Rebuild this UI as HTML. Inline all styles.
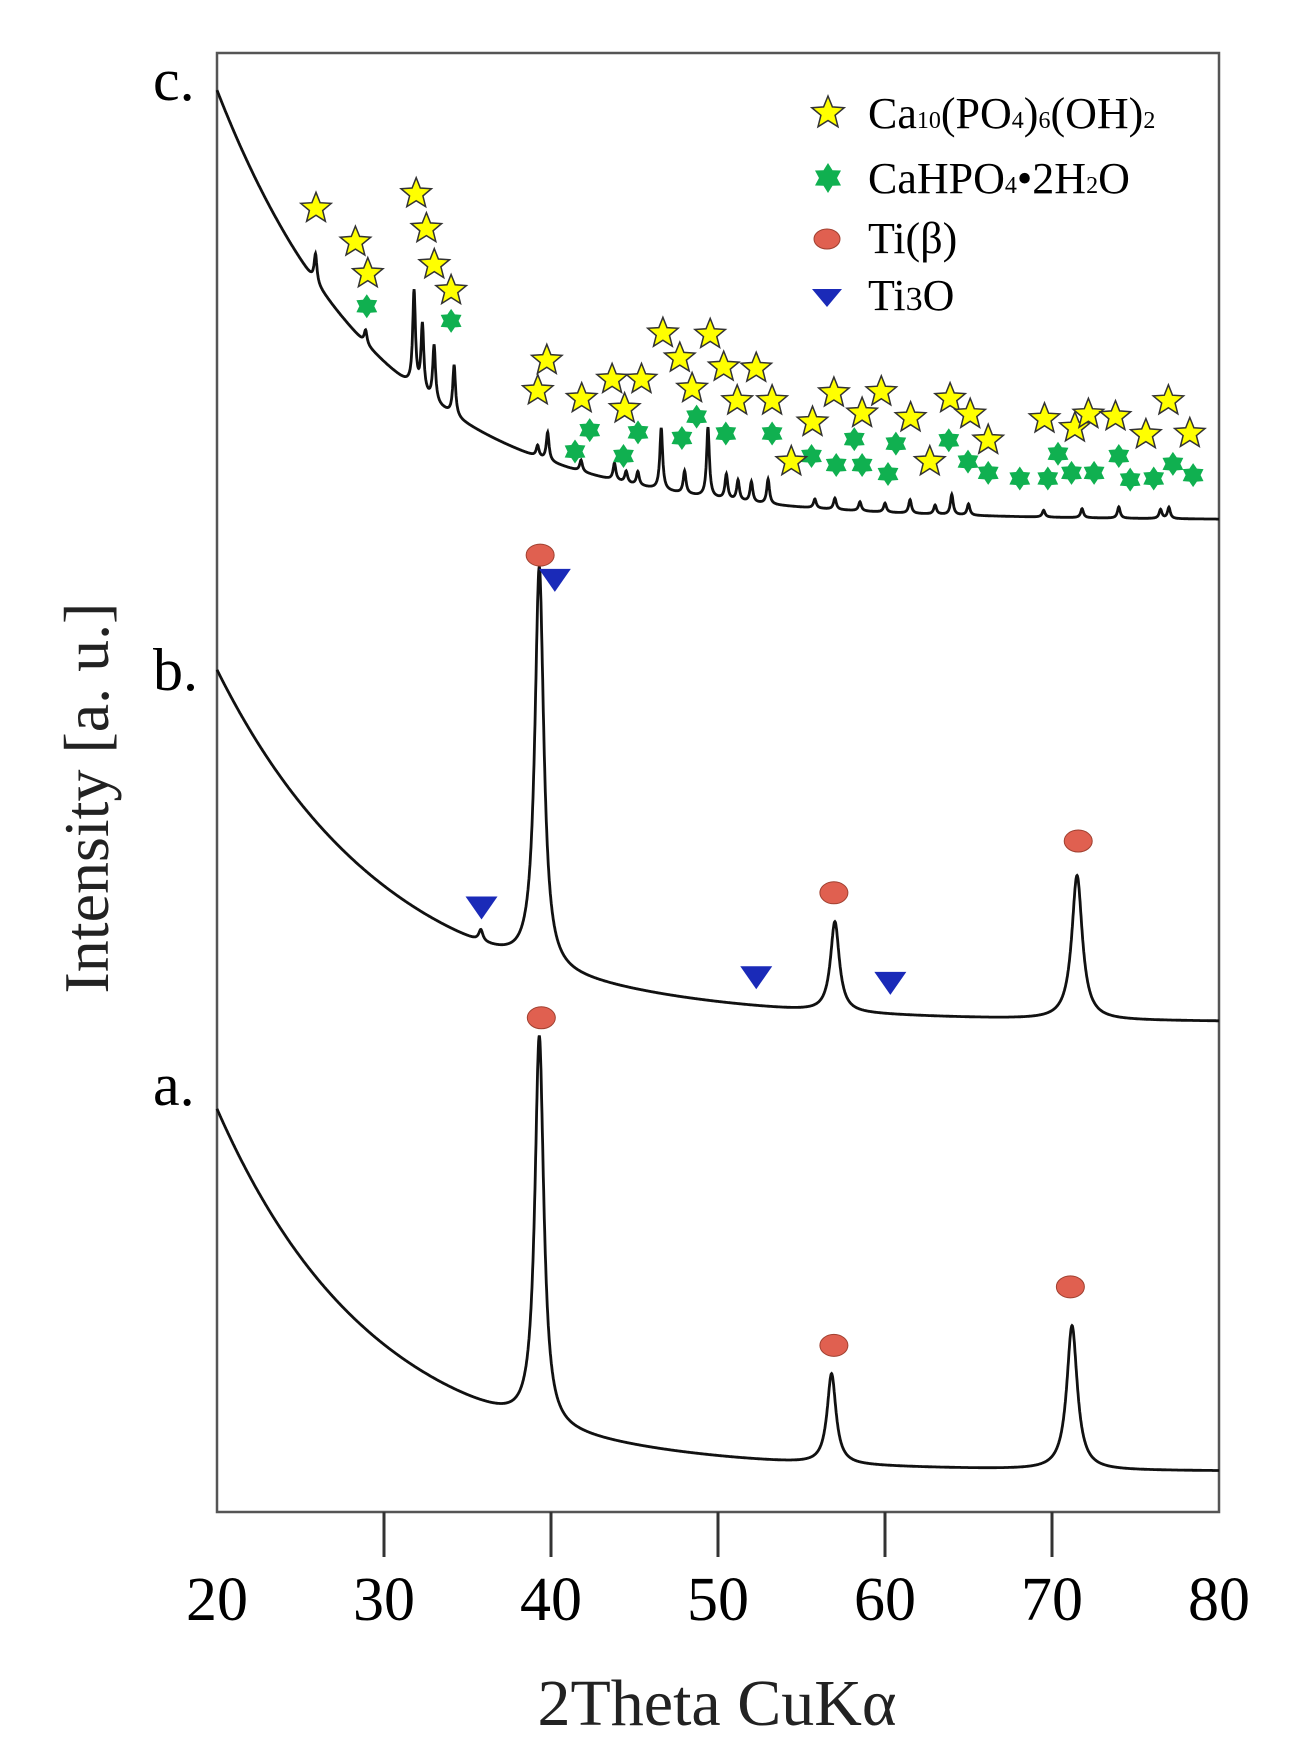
<!DOCTYPE html>
<html><head><meta charset="utf-8">
<style>
html,body{margin:0;padding:0;background:#fff;}
svg{display:block;font-family:"Liberation Serif",serif;}
</style></head>
<body>
<svg id="chart" width="1304" height="1764" viewBox="0 0 1304 1764" xmlns="http://www.w3.org/2000/svg">
<rect x="0" y="0" width="1304" height="1764" fill="#fff"/>
<rect x="217" y="53" width="1002" height="1459" fill="none" stroke="#555" stroke-width="2.5"/>
<g id="xticks"></g>
<g id="curves"></g>
<g id="markers"></g>
<text x="153" y="100" font-size="60">c.</text>
<text x="153" y="690" font-size="60">b.</text>
<text x="153" y="1105" font-size="60">a.</text>
<text x="717" y="1725" font-size="66" text-anchor="middle" fill="#222">2Theta CuKα</text>
<text transform="translate(108,798) rotate(-90)" font-size="64" text-anchor="middle" fill="#222">Intensity [a. u.]</text>
<g font-size="44">
  <g>
    <polygon id="lgStar" fill="#ffff00" stroke="#333" stroke-width="1.5"/>
    <text x="868" y="128">Ca<tspan font-size="24">10</tspan>(PO<tspan font-size="24">4</tspan>)<tspan font-size="24">6</tspan>(OH)<tspan font-size="24">2</tspan></text>
  </g>
  <g>
    <polygon id="lgGreen" fill="#10b050"/>
    <text x="868" y="193">CaHPO<tspan font-size="24">4</tspan>•2H<tspan font-size="24">2</tspan>O</text>
  </g>
  <g>
    <ellipse cx="827" cy="239" rx="13" ry="10" fill="#e06050" stroke="#a04030" stroke-width="1"/>
    <text x="868" y="253">Ti(β)</text>
  </g>
  <g>
    <polygon points="812,289 842,289 827,307" fill="#1a2ab8"/>
    <text x="868" y="310">Ti<tspan font-size="34">3</tspan>O</text>
  </g>
</g>
</svg>
<script>
// axis
const xMin = 20, xMax = 80;
const xTicks = [20,30,40,50,60,70,80];
// curve a
const aOffset = 36, aBgAmp = 322, aBgTau = 9.5;
const aPeakPos = [39.3, 56.8, 71.2];
const aPeakH = [345, 80, 128];
const aPeakW = [0.32, 0.32, 0.38];
// curve b
const bOffset = 435, bBgAmp = 313, bBgTau = 10.5;
const bPeakPos = [35.8, 39.3, 57.0, 71.5];
const bPeakH = [10, 355, 80, 128];
const bPeakW = [0.15, 0.32, 0.32, 0.38];
// curve c
const cOffset = 881, cBgAmp = 382, cBgTau = 10;
const cPeakPos = [25.9,28.9,31.8,32.3,33.0,34.2,39.2,39.8,41.8,43.8,44.5,45.2,46.6,48.0,49.4,50.5,51.2,52.0,53.0,55.8,57.0,58.5,60.0,61.5,63.0,64.0,65.0,69.5,71.8,74.0,76.5,77.0];
const cPeakH = [25,12,85,60,50,45,10,25,10,15,10,12,55,20,62,22,18,18,22,8,10,8,8,12,8,18,10,6,8,10,8,10];
const cPeakW = 0.1;
// markers
const hapX = [25.93,28.29,29.03,31.93,32.54,33.01,34.02,39.75,39.21,41.84,43.66,44.41,45.42,46.70,47.71,48.45,49.53,50.34,51.15,52.29,53.24,54.39,55.66,56.94,58.63,59.78,61.53,62.68,63.90,65.10,66.18,69.55,71.37,72.18,73.80,75.62,76.97,78.25];
const hapV = [1158,1128,1100,1171,1140,1108,1085,1023,996,989,1006,980,1006,1047,1025,998,1046,1017,987,1016,987,933,968,994,976,995,972,933,989,975,952,971,963,975,973,957,987,958];
const bruX = [28.97,34.02,41.44,42.32,44.34,45.21,47.84,48.72,50.47,53.24,55.60,57.08,58.16,58.63,60.18,60.65,63.82,64.97,66.18,68.07,69.75,70.36,71.17,72.52,74.00,74.68,76.09,77.24,78.45];
const bruV = [1071,1058,942,961,938,959,954,973,958,958,938,930,953,930,922,949,952,933,923,918,918,940,923,923,938,917,918,931,921];
const tiX = [39.35,56.94,71.57,39.42,56.94,71.10];
const tiV = [850,550,596,439,148,200];
const ti3oX = [40.23,35.84,52.29,60.32];
const ti3oV = [828,537,475,470];

const NS = "http://www.w3.org/2000/svg";
const X0 = 217, X1 = 1219, Y0 = 1512, YK = 1.1258;
function xs(t){ return X0 + (t - xMin) / (xMax - xMin) * (X1 - X0); }
function ys(v){ return Y0 - v * YK; }
function mk(tag, attrs, parent){ const e = document.createElementNS(NS, tag); for (const k in attrs) e.setAttribute(k, attrs[k]); parent.appendChild(e); return e; }

const gt = document.getElementById('xticks');
xTicks.forEach((t, i) => {
  if (i > 0 && i < xTicks.length - 1) {
    const l = mk('line', {x1: xs(t), x2: xs(t), y1: Y0, y2: Y0 + 45, stroke: '#333', 'stroke-width': 3}, gt);
    
    
  }
  const tx = mk('text', {x: xs(t), y: 1620, 'font-size': 62, 'text-anchor': 'middle'}, gt);
  tx.textContent = t;
  
  
});

function curve(off, amp, tau, pos, h, w) {
  let d = '';
  for (let t = xMin; t <= xMax + 1e-9; t += 0.02) {
    let v = off + amp * Math.exp(-(t - xMin) / tau);
    for (let i = 0; i < pos.length; i++) {
      const ww = Array.isArray(w) ? w[i] : w;
      const z = (t - pos[i]) / ww;
      v += h[i] / (1 + z * z);
    }
    d += (d ? 'L' : 'M') + xs(t).toFixed(1) + ' ' + ys(v).toFixed(1);
  }
  return d;
}
const gc = document.getElementById('curves');
const pa = mk('path', {d: curve(aOffset, aBgAmp, aBgTau, aPeakPos, aPeakH, aPeakW), fill: 'none', stroke: '#111', 'stroke-width': 2.8}, gc);


const pb = mk('path', {d: curve(bOffset, bBgAmp, bBgTau, bPeakPos, bPeakH, bPeakW), fill: 'none', stroke: '#111', 'stroke-width': 2.8}, gc);


const pc = mk('path', {d: curve(cOffset, cBgAmp, cBgTau, cPeakPos, cPeakH, cPeakW), fill: 'none', stroke: '#111', 'stroke-width': 2.8}, gc);



function starPts(cx, cy, n, ro, ri) {
  const p = [];
  for (let i = 0; i < 2 * n; i++) {
    const a = -Math.PI / 2 + i * Math.PI / n;
    const r = i % 2 ? ri : ro;
    p.push((cx + r * Math.cos(a)).toFixed(1) + ',' + (cy + r * Math.sin(a)).toFixed(1));
  }
  return p.join(' ');
}
document.getElementById('lgStar').setAttribute('points', starPts(828, 113, 5, 17, 7.5));
document.getElementById('lgGreen').setAttribute('points', starPts(828, 178, 6, 15, 9));

const gm = document.getElementById('markers');
bruX.forEach((t, i) => {
  const p = mk('polygon', {points: starPts(xs(t), ys(bruV[i]), 6, 12, 7.5), fill: '#10b050'}, gm);
  
  
});
hapX.forEach((t, i) => {
  const p = mk('polygon', {points: starPts(xs(t), ys(hapV[i]), 5, 16, 7), fill: '#ffff00', stroke: '#333', 'stroke-width': 1.5}, gm);
  
  
});
tiX.forEach((t, i) => {
  const e = mk('ellipse', {cx: xs(t), cy: ys(tiV[i]), rx: 14, ry: 11, fill: '#e06050', stroke: '#a04030', 'stroke-width': 1}, gm);
  
  
});
ti3oX.forEach((t, i) => {
  const cx = xs(t), cy = ys(ti3oV[i]);
  const p = mk('polygon', {points: (cx-16)+','+(cy-11)+' '+(cx+16)+','+(cy-11)+' '+cx+','+(cy+12), fill: '#1a2ab8'}, gm);
  
  
});
</script>
</body></html>
